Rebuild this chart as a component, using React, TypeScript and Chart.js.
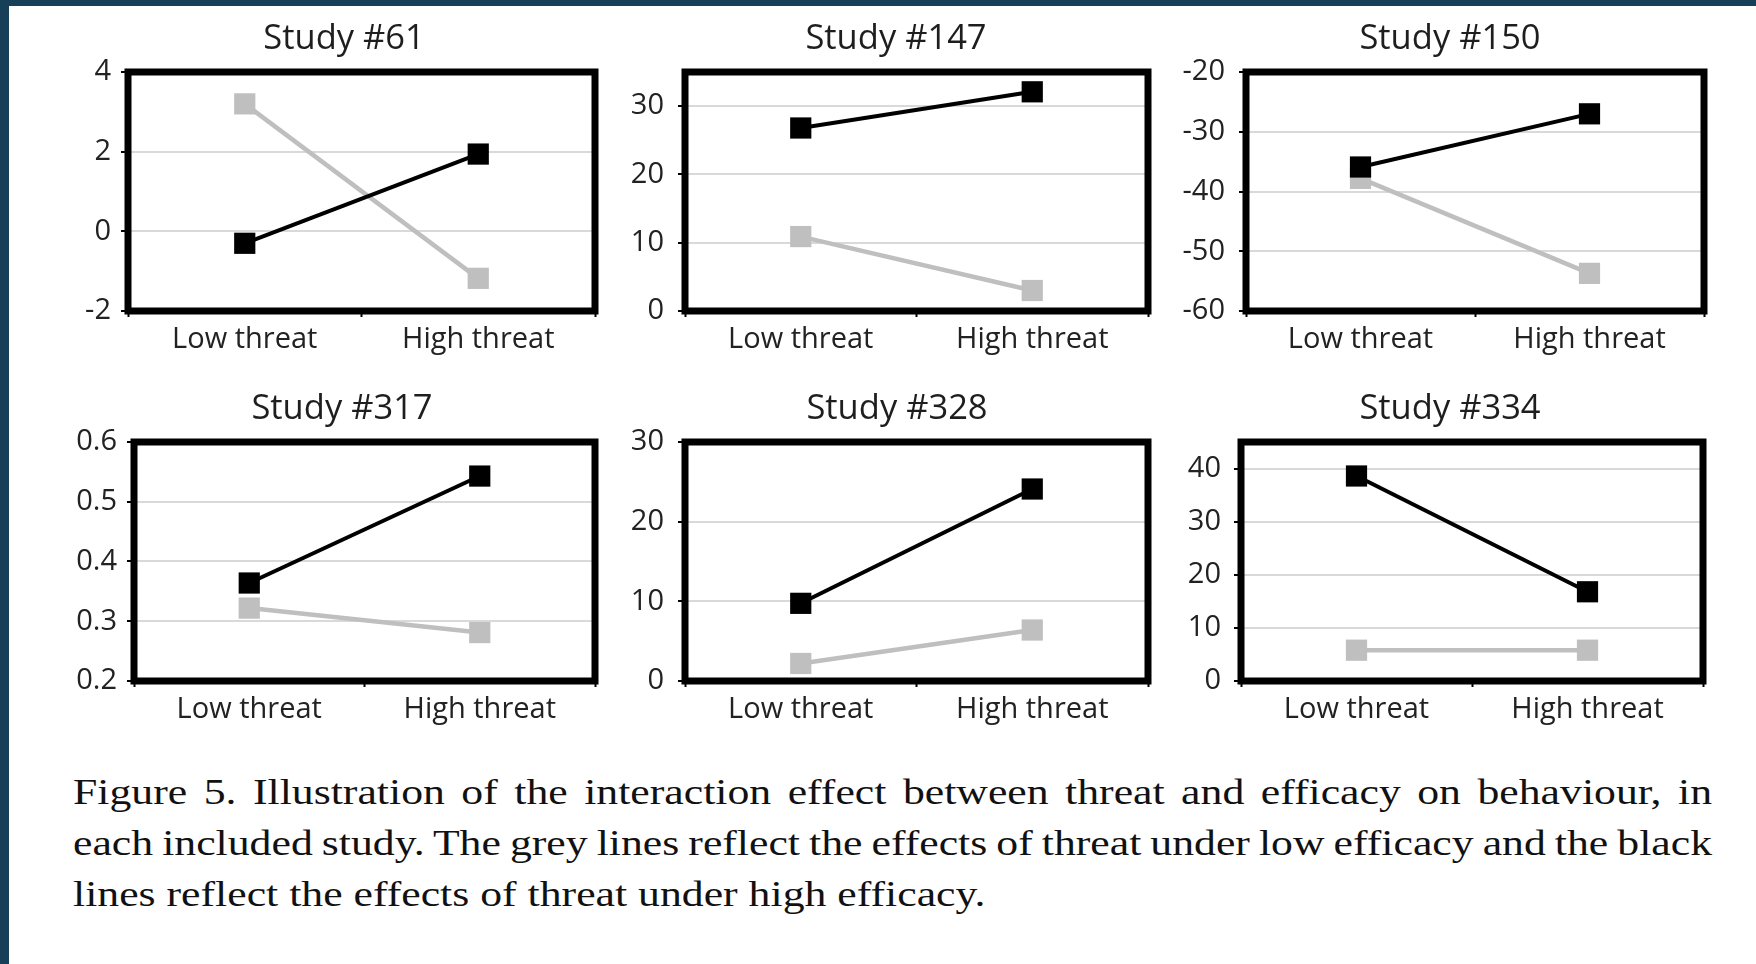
import React, { useEffect, useRef } from "react";
import { Chart, registerables } from "chart.js";

Chart.register(...registerables);

// ---------- data ----------
const categories = ["Low threat", "High threat"];
const studyTitles = ["Study #61", "Study #147", "Study #150", "Study #317", "Study #328", "Study #334"];

// black lines: effect of threat under high efficacy
const study61High = [-0.3, 1.94];
const study147High = [26.8, 32.1];
const study150High = [-35.9, -27.0];
const study317High = [0.364, 0.543];
const study328High = [9.75, 24.1];
const study334High = [38.6, 16.8];

// grey lines: effect of threat under low efficacy
const study61Low = [3.2, -1.18];
const study147Low = [10.9, 3.0];
const study150Low = [-37.8, -53.7];
const study317Low = [0.322, 0.281];
const study328Low = [2.2, 6.4];
const study334Low = [5.8, 5.8];

// y-axis ranges and tick steps
const yMin = [-2, 0, -60, 0.2, 0, 0];
const yMax = [4, 35, -20, 0.6, 30, 45];
const yStep = [2, 10, 10, 0.1, 10, 10];

const captionLines = [
  "Figure 5. Illustration of the interaction effect between threat and efficacy on behaviour, in",
  "each included study. The grey lines reflect the effects of threat under low efficacy and the black",
  "lines reflect the effects of threat under high efficacy.",
];

const highSeries = [study61High, study147High, study150High, study317High, study328High, study334High];
const lowSeries = [study61Low, study147Low, study150Low, study317Low, study328Low, study334Low];

// ---------- layout (page pixel geometry of each plot frame) ----------
const panelLayout = [
  { L: 128, R: 595, T: 72, tc: 344, pad: 10 },
  { L: 685, R: 1148, T: 72, tc: 896, pad: 14 },
  { L: 1246, R: 1704, T: 72, tc: 1450, pad: 14 },
  { L: 134, R: 595, T: 442, tc: 342, pad: 10 },
  { L: 685, R: 1148, T: 442, tc: 897, pad: 14 },
  { L: 1241, R: 1703, T: 442, tc: 1450, pad: 13 },
];
const PLOT_H = 239;
const TITLE_BLOCK = 64;
const TITLE_MID = 31.2;
const XAXIS_H = 60;
const RIGHT_PAD = 8;
const RIGHT_EXTRA = 7; // room Chart.js keeps right of the x axis
const LEFT_EXTRA = 75;
const FONT = "'Open Sans', sans-serif";
const CAPTION_STRETCH = 1.215;

const framePlugin = {
  id: "frame",
  afterDraw(chart: any) {
    const { ctx, chartArea } = chart;
    ctx.save();
    ctx.strokeStyle = "#000";
    ctx.lineWidth = 7;
    ctx.lineJoin = "miter";
    ctx.strokeRect(chartArea.left, chartArea.top, chartArea.right - chartArea.left, chartArea.bottom - chartArea.top);
    ctx.restore();
  },
};

// draws the panel title centred on a given x (the reference titles are centred on the whole chart object)
const panelTitlePlugin = {
  id: "panelTitle",
  afterDraw(chart: any, _args: any, opts: any) {
    const { ctx } = chart;
    ctx.save();
    ctx.font = `normal ${opts.size}px ${FONT}`;
    ctx.fillStyle = opts.color;
    ctx.textAlign = "center";
    ctx.textBaseline = "middle";
    ctx.fillText(opts.text, opts.x, opts.y);
    ctx.restore();
  },
};

function Panel({ index }: { index: number }) {
  const ref = useRef<HTMLCanvasElement | null>(null);
  const lay = panelLayout[index];
  const left = lay.L - LEFT_EXTRA;
  const right = lay.R + RIGHT_PAD + RIGHT_EXTRA;
  const width = right - left;
  const height = TITLE_BLOCK + PLOT_H + XAXIS_H;
  const top = lay.T - TITLE_BLOCK;

  useEffect(() => {
    if (!ref.current) return;
    const tickFont = { family: FONT, size: 29 };
    const chart = new Chart(ref.current, {
      type: "line",
      data: {
        labels: categories,
        datasets: [
          {
            label: "High efficacy",
            data: highSeries[index],
            borderColor: "#000000",
            backgroundColor: "#000000",
            borderWidth: 4,
            pointStyle: "rect",
            pointRadius: 15,
            pointBorderWidth: 0,
            pointBackgroundColor: "#000000",
            order: 0,
          },
          {
            label: "Low efficacy",
            data: lowSeries[index],
            borderColor: "#bfbfbf",
            backgroundColor: "#bfbfbf",
            borderWidth: 4.5,
            pointStyle: "rect",
            pointRadius: 15,
            pointBorderWidth: 0,
            pointBackgroundColor: "#bfbfbf",
            order: 1,
          },
        ],
      },
      options: {
        responsive: false,
        animation: false,
        devicePixelRatio: 1,
        layout: { padding: { left: 0, right: RIGHT_PAD, top: TITLE_BLOCK, bottom: 0 } },
        plugins: {
          legend: { display: false },
          tooltip: { enabled: false },
          title: { display: false },
          panelTitle: {
            text: studyTitles[index],
            x: lay.tc - left,
            y: TITLE_MID,
            size: 34.5,
            color: "#1e1e1e",
          },
        },
        scales: {
          x: {
            type: "category",
            offset: true,
            grid: {
              offset: true,
              drawOnChartArea: false,
              drawTicks: true,
              tickLength: 6,
              tickColor: "#000000",
              tickWidth: 2,
            },
            border: { display: false },
            ticks: { padding: 5, font: tickFont, color: "#222222", maxRotation: 0, autoSkip: false },
            afterFit: (s: any) => {
              s.height = XAXIS_H;
            },
          },
          y: {
            min: yMin[index],
            max: yMax[index],
            grid: {
              color: "#d9d9d9",
              lineWidth: 2,
              tickColor: "#000000",
              tickLength: 7,
              tickWidth: 2,
            },
            border: { display: false },
            ticks: {
              stepSize: yStep[index],
              includeBounds: false,
              padding: lay.pad,
              font: tickFont,
              color: "#222222",
            },
            afterFit: (s: any) => {
              s.width = LEFT_EXTRA;
            },
          },
        },
      } as any,
      plugins: [framePlugin, panelTitlePlugin],
    });
    return () => chart.destroy();
  }, [index]);

  return (
    <canvas
      ref={ref}
      width={width}
      height={height}
      style={{ position: "absolute", left, top, width, height }}
    />
  );
}

export default function App() {
  return (
    <div
      style={{
        position: "absolute",
        left: 0,
        top: 0,
        width: 1756,
        height: 964,
        background: "#173f57",
        overflow: "hidden",
      }}
    >
      <div
        style={{
          position: "absolute",
          left: 9,
          top: 6,
          width: 1747,
          height: 958,
          background: "#ffffff",
        }}
      />
      {studyTitles.map((_, i) => (
        <Panel key={i} index={i} />
      ))}
      <div
        style={{
          position: "absolute",
          left: 73,
          top: 767,
          width: Math.round(1639 / CAPTION_STRETCH),
          transform: `scaleX(${CAPTION_STRETCH})`,
          transformOrigin: "left top",
          fontFamily: "'Liberation Serif', 'Times New Roman', serif",
          fontSize: 36,
          lineHeight: "51px",
          color: "#111111",
        }}
      >
        {captionLines.map((line, i) => (
          <div
            key={i}
            style={{
              whiteSpace: "nowrap",
              textAlign: i < 2 ? "justify" : "left",
              textAlignLast: i < 2 ? "justify" : "left",
              wordSpacing: i === 1 ? "-2.5px" : undefined,
              height: 51,
            }}
          >
            {line}
          </div>
        ))}
      </div>
    </div>
  );
}
